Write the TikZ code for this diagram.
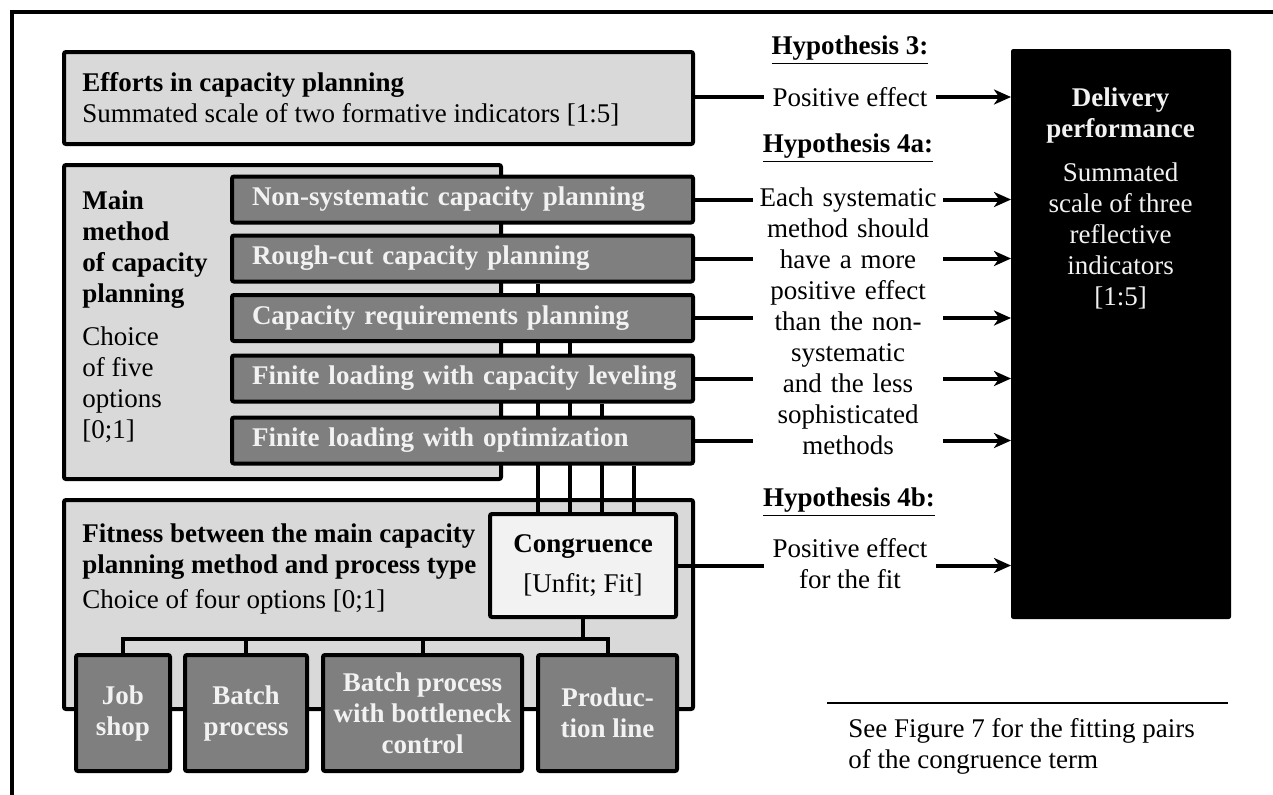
\documentclass[tikz,border=0pt]{standalone}
\usepackage{fontspec}
\setmainfont{Liberation Serif}
\usetikzlibrary{arrows.meta,positioning}
\pgfdeclarelayer{bottom}
\pgfdeclarelayer{links}
\pgfsetlayers{bottom,links,main}
\definecolor{lightfill}{HTML}{D9D9D9}
\definecolor{darkfill}{HTML}{7F7F7F}
\definecolor{congfill}{HTML}{F2F2F2}
\definecolor{softwhite}{HTML}{F2F2F2}
\begin{document}
\begin{tikzpicture}[
x=0.5pt,y=-0.5pt,
every node/.style={font=\fontsize{13.5}{15.5}\selectfont},
outer/.style={draw,line width=2pt,fill=lightfill,rounded corners=1pt,anchor=north west,inner sep=0pt},
method/.style={draw,line width=2pt,fill=darkfill,rounded corners=1pt,text=softwhite,font=\fontsize{13.5}{15.5}\selectfont\bfseries,text width=210.5pt,inner xsep=10pt,inner ysep=0pt,minimum height=23pt,align=left,anchor=west},
process/.style={draw,line width=2pt,fill=darkfill,rounded corners=1pt,text=softwhite,font=\fontsize{13.5}{15.5}\selectfont\bfseries,align=center,minimum height=58pt,inner sep=0pt},
cong/.style={draw,line width=2pt,fill=congfill,rounded corners=1pt,minimum width=93pt,minimum height=51.5pt,align=center,inner sep=0pt},
txt/.style={align=left,inner sep=0pt},
hyp/.style={font=\fontsize{13.5}{15.5}\selectfont\bfseries,inner sep=0pt},
link/.style={line width=2pt},
arr/.style={line width=2pt,-{Stealth[length=8.5pt,width=7.5pt,inset=2.5pt]}}
]
\useasboundingbox (0,0) rectangle (1273,794);
\draw[line width=2pt] (11.5,800) -- (11.5,11.5) -- (1280,11.5);

% left side
\begin{pgfonlayer}{bottom}
\node[outer,minimum width=314.5pt,minimum height=46pt] (eff) at (62,50) {};
\node[outer,minimum width=218.5pt,minimum height=157pt] (main) at (62,163) {};
\node[outer,minimum width=314.5pt,minimum height=104.5pt] (fit) at (62,498) {};
\end{pgfonlayer}
\node[txt,anchor=west] (efftxt) at (82,99) {\textbf{Efforts in capacity planning}\\Summated scale of two formative indicators [1:5]};
\node[txt,anchor=west] (maintxt) at (82,317) {\textbf{Main}\\\textbf{method}\\\textbf{of capacity}\\\textbf{planning}\\[6pt]Choice\\of five\\options\\{[0;1]}};
\node[txt,anchor=west] (fittxt) at (82,569) {\textbf{Fitness between the main capacity}\\\textbf{planning method and process type}\\[2pt]Choice of four options [0;1]};

\foreach \i/\y/\t in {1/199.5/Non-systematic capacity planning,
  2/258.5/Rough-cut capacity planning,
  3/318/Capacity requirements planning,
  4/378.5/Finite loading with capacity leveling,
  5/440.5/Finite loading with optimization}
  \node[method] (m\i) at (230,\y) {\mbox{\t}};

\node[cong] (cong) at (583,565.5) {\textbf{Congruence}\\[4.5pt]{[Unfit; Fit]}};

\node[process,minimum width=47pt] (job) at (123,713) {Job\\shop};
\node[process,minimum width=61pt] (batch) at (246,713) {Batch\\process};
\node[process,minimum width=99.5pt] (neck) at (422.5,713) {Batch process\\with bottleneck\\control};
\node[process,minimum width=69.5pt] (prod) at (607.5,713) {Produc-\\tion line};

\begin{pgfonlayer}{links}
\foreach \i/\dx in {2/-22.5,3/-6.5,4/9.5,5/25.5}
  \draw[link] ([xshift=\dx pt]cong.north) -- ([xshift=\dx pt]cong.north |- m\i.south);
\coordinate (bus) at ([yshift=-10pt]cong.south);
\draw[link] (cong.south) -- (bus);
\draw[link] (job.north) |- (bus) -| (prod.north);
\draw[link] (batch.north) -- (batch.north |- bus);
\draw[link] (neck.north) -- (neck.north |- bus);
\end{pgfonlayer}

% right side
\node[draw,fill=black,line width=0.5pt,rounded corners=1pt,minimum width=109.5pt,minimum height=284.5pt,inner sep=0pt,anchor=north west] (deliv) at (1011,49) {};
\node[align=center,inner sep=0pt,text=softwhite] (delivtxt) at (1120.5,198.5) {\textbf{Delivery}\\\textbf{performance}\\[6.5pt]Summated\\scale of three\\reflective\\indicators\\{[1:5]}};

\node[hyp] (h3) at (850,50) {\underline{Hypothesis 3:}};
\node[inner xsep=4pt,inner ysep=0pt] (pe) at (850,97) {Positive effect};
\node[hyp] (h4a) at (848,148) {\underline{Hypothesis 4a:}};
\node[align=center,text width=91pt,inner xsep=2pt,inner ysep=0pt] (h4atxt) at (848,321.5) {Each systematic\\method should\\have a more\\positive effect\\than the non-\\systematic\\and the less\\sophisticated\\methods};
\node[hyp] (h4b) at (849,502) {\underline{Hypothesis 4b:}};
\node[align=center,inner xsep=4pt,inner ysep=0pt] (pef) at (850,564) {Positive effect\\for the fit};

\draw[link] (eff.east |- pe.west) -- (pe.west);
\draw[arr] (pe.east) -- (pe.east -| deliv.west);
\foreach \i in {1,...,5} {
  \draw[link] (m\i.east) -- (m\i.east -| h4atxt.west);
  \draw[arr] (m\i.east -| h4atxt.east) -- (m\i.east -| deliv.west);
}
\draw[link] (cong.east) -- (cong.east -| pef.west);
\draw[arr] (cong.east -| pef.east) -- (cong.east -| deliv.west);

% footnote
\coordinate (rulel) at (827,703);
\coordinate (ruler) at (1228,703);
\draw[line width=0.75pt] (rulel) -- (ruler);
\node[txt,anchor=west] (note) at (848,746) {See Figure 7 for the fitting pairs\\of the congruence term};
\end{tikzpicture}
\end{document}
